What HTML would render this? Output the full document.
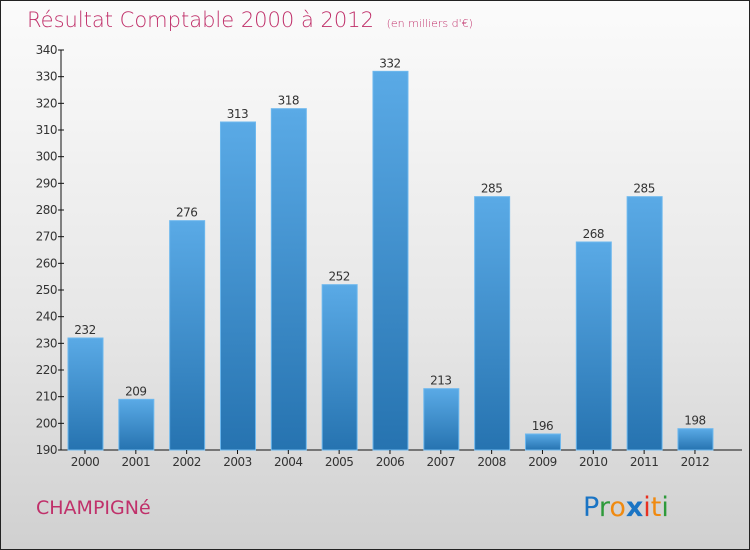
<!DOCTYPE html>
<html><head><meta charset="utf-8"><style>
html,body{margin:0;padding:0}
body{width:750px;height:550px;overflow:hidden;font-family:"DejaVu Sans","Liberation Sans",sans-serif}
#frame{position:absolute;left:0;top:0;width:748px;height:548px;border:1px solid #222;background:linear-gradient(#fbfbfb,#e6e6e6 60%,#d0d0d0)}
</style></head><body>
<div id="frame">
<svg id="chart" width="750" height="550" style="position:absolute;left:-1px;top:-1px">
<defs><linearGradient id="bg" x1="0" y1="0" x2="0" y2="1"><stop offset="0" stop-color="#5aaae6"/><stop offset="1" stop-color="#2673b0"/></linearGradient></defs>
<text x="27" y="27" font-size="21" fill="#c0306a" font-family="'DejaVu Sans',sans-serif" font-weight="200">Résultat Comptable 2000 à 2012 <tspan font-size="11" dx="6">(en milliers d'€)</tspan></text>
<text x="36" y="514" font-size="19" fill="#c0306a">CHAMPIGNé</text>
<g font-size="27" font-family="'DejaVu Sans',sans-serif">
<text x="583" y="516"><tspan fill="#1a74c4">P</tspan><tspan fill="#2e9a3a">r</tspan><tspan fill="#f08a10">o</tspan><tspan fill="#1a74c4" font-weight="bold">x</tspan><tspan fill="#e83020">i</tspan><tspan fill="#f08a10">t</tspan><tspan fill="#2e9a3a">i</tspan></text>
</g>
<g id="plot"></g>
</svg>
</div>
<script>
const years=["2000","2001","2002","2003","2004","2005","2006","2007","2008","2009","2010","2011","2012"];
const values=[232,209,276,313,318,252,332,213,285,196,268,285,198];
const yTicks=[190,200,210,220,230,240,250,260,270,280,290,300,310,320,330,340];
const ns="http://www.w3.org/2000/svg";
const g=document.getElementById('plot');
const yMin=190,yMax=340,y0=450,y1=50,axX=61;
const y=v=>y0-(v-yMin)/(yMax-yMin)*(y0-y1);
const x=i=>85+i*50.83;
function el(t,a){const e=document.createElementNS(ns,t);for(const k in a)e.setAttribute(k,a[k]);g.appendChild(e);return e;}
let ax=el('line',{x1:axX,y1:y1,x2:axX,y2:y0,stroke:'#111'});


let bx=el('line',{x1:axX,y1:y0,x2:742,y2:y0,stroke:'#111'});


yTicks.forEach(t=>{
 const l=el('line',{x1:axX-3,x2:axX+3,y1:y(t),y2:y(t),stroke:'#111'});
 
 
 const tx=el('text',{x:axX-4,y:y(t)+4,'text-anchor':'end','font-size':12,fill:'#333',"letter-spacing":"-0.5"});
 tx.textContent=t;
 
 
});
years.forEach((yr,i)=>{
 const cx=x(i),top=y(values[i]);
 const r=el('rect',{x:cx-17,y:top,width:35,height:y0-top,fill:'url(#bg)',stroke:'#6db8ee','stroke-width':1});
 
 
 const v=el('text',{x:cx,y:top-4,'text-anchor':'middle','font-size':12,fill:'#333',"letter-spacing":"-0.5"});
 v.textContent=values[i];
 
 
 const tk=el('line',{x1:cx,x2:cx,y1:y0,y2:y0+4,stroke:'#111'});
 
 
 const lb=el('text',{x:cx,y:y0+16,'text-anchor':'middle','font-size':12,fill:'#333',"letter-spacing":"-0.5"});
 lb.textContent=yr;
 
 
});
</script>
</body></html>
